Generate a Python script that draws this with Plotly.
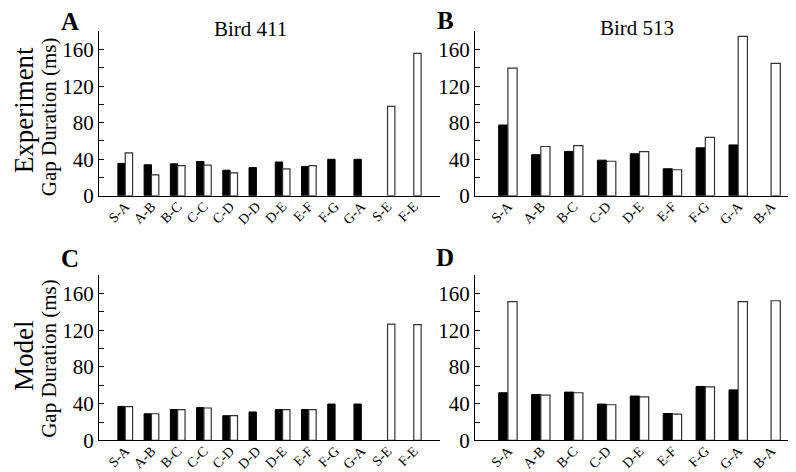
import plotly.graph_objects as go

# categories
cats_411 = ["S-A", "A-B", "B-C", "C-C", "C-D", "D-D", "D-E", "E-F", "F-G", "G-A", "S-E", "F-E"]
cats_513 = ["S-A", "A-B", "B-C", "C-D", "D-E", "E-F", "F-G", "G-A", "B-A"]

# experiment (black / white bars)
exp_411_black = [35.5, 34, 35, 37.5, 28, 31, 37, 32, 40, 40, None, None]
exp_411_white = [47, 23, 33, 33.5, 25, None, 29.5, 33, None, None, 98, 156]
exp_513_black = [77.5, 45, 48.6, 39, 46, 29.6, 52.5, 55.7, None]
exp_513_white = [139.7, 54, 55, 37.8, 48.3, 28.5, 64, 174.5, 145]

# model
model_411_black = [37, 29, 33.6, 35.7, 26.9, 31, 33.6, 33.6, 39.6, 39.6, None, None]
model_411_white = [36.7, 29, 33.6, 35.3, 26.9, None, 33.6, 33.6, None, None, 126.5, 126]
model_513_black = [51.9, 50, 52.6, 39.5, 48.3, 29.3, 58.7, 55, None]
model_513_white = [151, 49.4, 51.9, 38.8, 47.3, 28.6, 58.3, 151, 152]

y_ticks = [0, 40, 80, 120, 160]
y_minor = [20, 60, 100, 140]

W, H = 796, 472
FONT = "Liberation Serif, Times New Roman, serif"

panels = [
    ("x", "y", cats_411, exp_411_black, exp_411_white),
    ("x2", "y2", cats_513, exp_513_black, exp_513_white),
    ("x3", "y3", cats_411, model_411_black, model_411_white),
    ("x4", "y4", cats_513, model_513_black, model_513_white),
]

fig = go.Figure()
for xa, ya, cats, blk, wht in panels:
    fig.add_trace(go.Bar(x=cats, y=blk, xaxis=xa, yaxis=ya,
                         marker=dict(color="black", line=dict(color="black", width=1))))
    fig.add_trace(go.Bar(x=cats, y=wht, xaxis=xa, yaxis=ya,
                         marker=dict(color="white", line=dict(color="#333333", width=1.2))))

def xax(domain, anchor, n):
    return dict(domain=domain, anchor=anchor, type="category", range=[-1, n],
                showline=True, linecolor="black", linewidth=1, ticks="",
                tickangle=-45, ticklabelstandoff=-4, showgrid=False, zeroline=False,
                tickfont=dict(family=FONT, size=14, color="black"))

def yax(domain, anchor):
    return dict(domain=domain, anchor=anchor, range=[0, 180], tickvals=y_ticks,
                ticks="inside", ticklen=5, tickcolor="black",
                minor=dict(tickvals=y_minor, ticks="inside", ticklen=5, tickcolor="black"),
                showline=True, linecolor="black", linewidth=1,
                showgrid=False, zeroline=False,
                tickfont=dict(family=FONT, size=21, color="black"))

xl = [91 / W, 432 / W]
xr = [467 / W, 1.0]
yt = [1 - 192.7 / H, 1 - 24 / H]
yb = [1 - 443.7 / H, 1 - 274 / H]

fig.update_layout(
    width=W, height=H, margin=dict(l=0, r=0, t=0, b=0),
    paper_bgcolor="white", plot_bgcolor="white",
    font=dict(family=FONT, color="black"),
    showlegend=False, barmode="group", bargap=0.44, bargroupgap=0,
    xaxis=xax(xl, "y", len(cats_411)),
    xaxis2=xax(xr, "y2", len(cats_513)),
    xaxis3=xax(xl, "y3", len(cats_411)),
    xaxis4=xax(xr, "y4", len(cats_513)),
    yaxis=yax(yt, "x"),
    yaxis2=yax(yt, "x2"),
    yaxis3=yax(yb, "x3"),
    yaxis4=yax(yb, "x4"),
)

def note(text, px, py, size, bold=False, angle=0):
    fig.add_annotation(text=f"<b>{text}</b>" if bold else text,
                       x=px / W, y=1 - py / H, xref="paper", yref="paper",
                       xanchor="center", yanchor="middle", showarrow=False,
                       textangle=angle,
                       font=dict(family=FONT, size=size, color="black"))

note("Bird 411", 242, 22, 21)
note("Bird 513", 629, 21, 21)
note("A", 62, 14, 25, bold=True)
note("B", 437, 13, 25, bold=True)
note("C", 62, 257, 25, bold=True)
note("D", 437, 256, 25, bold=True)
note("Experiment", 16, 105, 27, angle=-90)
note("Gap Duration (ms)", 41, 112, 21, angle=-90)
note("Model", 16, 357, 27, angle=-90)
note("Gap Duration (ms)", 41, 360, 21, angle=-90)

fig.write_html("out.html")
